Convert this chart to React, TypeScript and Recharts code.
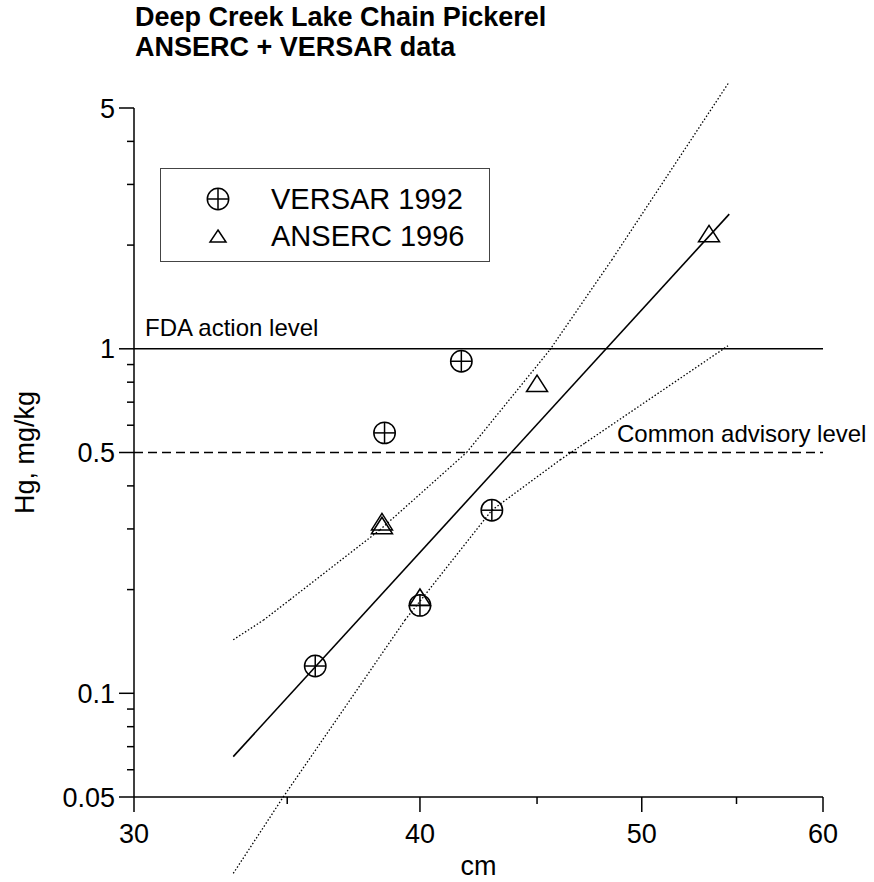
import React from "react";
import {
  ComposedChart,
  Scatter,
  Line,
  XAxis,
  YAxis,
  ReferenceLine,
  Label,
} from "recharts";

const FONT = '"Liberation Sans", Arial, Helvetica, sans-serif';

// VERSAR 1992 fish (length cm, Hg mg/kg)
const versarLength = [36.0, 38.6, 41.7, 43.0, 40.0];
const versarHg = [0.12, 0.57, 0.92, 0.34, 0.18];

// ANSERC 1996 fish
const ansercLength = [38.5, 38.5, 40.0, 45.0, 53.5];
const ansercHg = [0.307, 0.315, 0.19, 0.794, 2.16];

// fitted line and its confidence band
const fitLength = [33.15, 54.6];
const fitHg = [0.0655, 2.46];
const upperLength = [33.15, 34.17, 35.1, 38.42, 41.92, 45.58, 48.51, 54.55];
const upperHg = [0.143, 0.163, 0.187, 0.298, 0.5, 0.992, 1.81, 5.9];
const lowerLength = [33.15, 34.86, 39.4, 43.0, 46.06, 47.23, 54.53];
const lowerHg = [0.03, 0.05, 0.163, 0.34, 0.476, 0.533, 1.02];

const xTicks = [30, 35, 40, 45, 50, 55, 60];
const xLabeled = [30, 40, 50, 60];
const yTicks = [
  0.05, 0.06, 0.07, 0.08, 0.09, 0.1, 0.2, 0.3, 0.4, 0.5, 0.6, 0.7, 0.8, 0.9, 1,
  2, 3, 4, 5,
];
const yLabeled = [0.05, 0.1, 0.5, 1, 5];

const FDA_LEVEL = 1;
const ADVISORY_LEVEL = 0.5;

const toPoints = (xs: number[], ys: number[]) =>
  xs.map((x, i) => ({ x, y: ys[i] }));

const versarData = toPoints(versarLength, versarHg);
const ansercData = toPoints(ansercLength, ansercHg);
const fitData = toPoints(fitLength, fitHg);
const upperBand = toPoints(upperLength, upperHg);
const lowerBand = toPoints(lowerLength, lowerHg);

// consecutive pairs -> segments (drawn unclipped, the band runs past the axes)
const toSegments = (pts: { x: number; y: number }[]) =>
  pts.slice(1).map((p, i) => [pts[i], p]);

function CrossCircle({ cx, cy, r = 10.7 }: any) {
  if (cx == null || cy == null) return null;
  return (
    <g stroke="#000" strokeWidth={1.5} fill="none">
      <circle cx={cx} cy={cy} r={r} />
      <line x1={cx - r} x2={cx + r} y1={cy} y2={cy} />
      <line x1={cx} x2={cx} y1={cy - r} y2={cy + r} />
    </g>
  );
}

function Triangle({ cx, cy, w = 10.5, h = 16.5 }: any) {
  if (cx == null || cy == null) return null;
  const top = cy - h / 2;
  const bottom = cy + h / 2;
  return (
    <polygon
      points={`${cx},${top} ${cx + w},${bottom} ${cx - w},${bottom}`}
      fill="none"
      stroke="#000"
      strokeWidth={1.5}
    />
  );
}

function XTick({ x, y, payload }: any) {
  const major = xLabeled.includes(payload.value);
  return (
    <g>
      <line x1={x} x2={x} y1={y} y2={y + (major ? 15 : 7)} stroke="#000" strokeWidth={1.5} />
      {major && (
        <text x={x} y={y + 46} textAnchor="middle" fontSize={27} fontFamily={FONT} fill="#000">
          {payload.value}
        </text>
      )}
    </g>
  );
}

function YTick({ x, y, payload }: any) {
  const major = yLabeled.includes(payload.value);
  return (
    <g>
      <line x1={x - (major ? 15 : 7)} x2={x} y1={y} y2={y} stroke="#000" strokeWidth={1.5} />
      {major && (
        <text x={x - 19} y={y + 9.5} textAnchor="end" fontSize={27} fontFamily={FONT} fill="#000">
          {payload.value}
        </text>
      )}
    </g>
  );
}

const levelLabel = (text: string, dx: number, dy: number) => (props: any) => {
  const vb = props.viewBox;
  return (
    <text x={vb.x + dx} y={vb.y + dy} fontSize={24} fontFamily={FONT} fill="#000">
      {text}
    </text>
  );
};

function ChartLegend() {
  const row = (symbol: React.ReactNode, text: string, top: number) => (
    <div style={{ position: "absolute", left: 0, top, height: 34, width: "100%" }}>
      <svg width={30} height={30} style={{ position: "absolute", left: 42, top: 2 }}>
        {symbol}
      </svg>
      <div style={{ position: "absolute", left: 110, top: 0, lineHeight: "34px" }}>{text}</div>
    </div>
  );
  return (
    <div
      style={{
        position: "absolute",
        left: 160,
        top: 168,
        width: 330,
        height: 94,
        border: "1px solid #444",
        boxSizing: "border-box",
        background: "#fff",
        fontFamily: FONT,
        fontSize: 29,
        color: "#000",
      }}
    >
      {row(<CrossCircle cx={15} cy={15} />, "VERSAR 1992", 13)}
      {row(<Triangle cx={15} cy={15} w={8} h={12} />, "ANSERC 1996", 50)}
    </div>
  );
}

export default function App() {
  return (
    <div
      style={{
        position: "absolute",
        left: 0,
        top: 0,
        width: 874,
        height: 882,
        background: "#fff",
        overflow: "hidden",
      }}
    >
      <div
        style={{
          position: "absolute",
          left: 135,
          top: 2,
          fontFamily: FONT,
          fontWeight: "bold",
          fontSize: 27,
          lineHeight: "30px",
          color: "#000",
          zIndex: 2,
        }}
      >
        <div>Deep Creek Lake Chain Pickerel</div>
        <div>ANSERC + VERSAR data</div>
      </div>

      <ComposedChart
        width={874}
        height={882}
        margin={{ top: 108, right: 51, bottom: 0, left: 0 }}
      >
        <XAxis
          dataKey="x"
          type="number"
          scale="log"
          domain={[30, 60]}
          allowDataOverflow
          ticks={xTicks}
          interval={0}
          tick={(p: any) => <XTick {...p} />}
          tickLine={false}
          tickSize={0}
          tickMargin={0}
          axisLine={{ stroke: "#000", strokeWidth: 1.5 }}
          height={85}
        >
          <Label
            content={(p: any) => {
              const vb = p.viewBox;
              return (
                <text
                  x={vb.x + vb.width / 2}
                  y={vb.y + 78}
                  textAnchor="middle"
                  fontSize={27}
                  fontFamily={FONT}
                  fill="#000"
                >
                  cm
                </text>
              );
            }}
          />
        </XAxis>
        <YAxis
          dataKey="y"
          type="number"
          scale="log"
          domain={[0.05, 5]}
          allowDataOverflow
          ticks={yTicks}
          interval={0}
          tick={(p: any) => <YTick {...p} />}
          tickLine={false}
          tickSize={0}
          tickMargin={0}
          axisLine={{ stroke: "#000", strokeWidth: 1.5 }}
          width={134}
        >
          <Label
            content={(p: any) => {
              const vb = p.viewBox;
              const cy = vb.y + vb.height / 2;
              return (
                <text
                  x={34}
                  y={cy}
                  transform={`rotate(-90 34 ${cy})`}
                  textAnchor="middle"
                  fontSize={27}
                  fontFamily={FONT}
                  fill="#000"
                >
                  Hg, mg/kg
                </text>
              );
            }}
          />
        </YAxis>

        <ReferenceLine
          y={FDA_LEVEL}
          stroke="#000"
          strokeWidth={1.5}
          label={levelLabel("FDA action level", 11, -13)}
        />
        <ReferenceLine
          y={ADVISORY_LEVEL}
          stroke="#000"
          strokeWidth={1.5}
          strokeDasharray="9 5"
          label={levelLabel("Common advisory level", 483, -11)}
        />

        {toSegments(upperBand).map((seg, i) => (
          <ReferenceLine
            key={`up-${i}`}
            segment={seg}
            ifOverflow="visible"
            stroke="#000"
            strokeWidth={1.3}
            strokeDasharray="1.5 2"
          />
        ))}
        {toSegments(lowerBand).map((seg, i) => (
          <ReferenceLine
            key={`lo-${i}`}
            segment={seg}
            ifOverflow="visible"
            stroke="#000"
            strokeWidth={1.3}
            strokeDasharray="1.5 2"
          />
        ))}

        <Line
          data={fitData}
          dataKey="y"
          type="linear"
          stroke="#000"
          strokeWidth={1.6}
          dot={false}
          activeDot={false}
          isAnimationActive={false}
        />
        <Scatter
          data={versarData}
          dataKey="y"
          shape={(p: any) => <CrossCircle cx={p.cx} cy={p.cy} />}
          isAnimationActive={false}
        />
        <Scatter
          data={ansercData}
          dataKey="y"
          shape={(p: any) => <Triangle cx={p.cx} cy={p.cy} />}
          isAnimationActive={false}
        />
      </ComposedChart>

      <ChartLegend />
    </div>
  );
}
